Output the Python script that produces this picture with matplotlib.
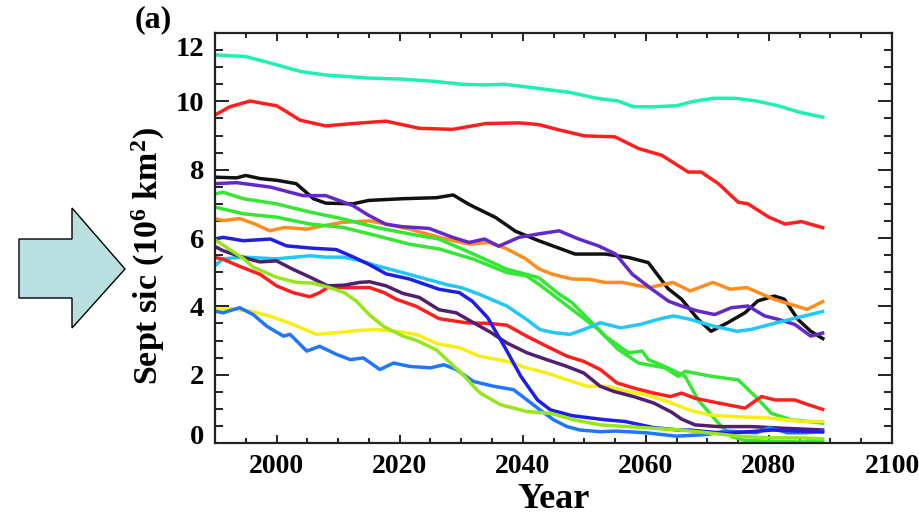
import matplotlib
matplotlib.use("Agg")
import matplotlib.pyplot as plt
from matplotlib.ticker import MultipleLocator
from matplotlib.patches import Polygon
from matplotlib.transforms import ScaledTranslation

plt.rcParams['font.family'] = ['Liberation Serif', 'DejaVu Serif']
plt.rcParams['font.weight'] = 'bold'
plt.rcParams['mathtext.fontset'] = 'custom'
plt.rcParams['mathtext.rm'] = 'Liberation Serif:bold'
plt.rcParams['mathtext.it'] = 'Liberation Serif:bold:italic'
plt.rcParams['mathtext.bf'] = 'Liberation Serif:bold'
plt.rcParams['mathtext.default'] = 'rm'

# ---------------- data (Sept sea-ice cover, 10^6 km^2) ----------------
yr_aqua = [1990, 1995, 1999, 2004, 2008, 2015, 2020.5, 2026, 2030, 2034, 2037, 2042.5, 2048,
           2052, 2055.5, 2058, 2061, 2065, 2067.5, 2071, 2074.5, 2078, 2081.5, 2085, 2089]
sic_aqua = [11.36, 11.31, 11.12, 10.87, 10.77, 10.68, 10.65, 10.58, 10.50, 10.48, 10.50, 10.38, 10.25,
            10.09, 10.01, 9.84, 9.84, 9.87, 9.99, 10.09, 10.09, 10.01, 9.87, 9.68, 9.53]

yr_red_top = [1990, 1992.4, 1995.7, 1997.8, 2000, 2001.6, 2003.8, 2008, 2012.4, 2017.8, 2023.2, 2028.6,
              2034, 2039.4, 2042.6, 2046, 2050, 2055, 2058.8, 2062.6, 2066.9, 2069, 2071.8, 2075,
              2076.6, 2080, 2082.6, 2085.3, 2089]
sic_red_top = [9.6, 9.84, 10.01, 9.94, 9.87, 9.7, 9.45, 9.28, 9.35, 9.42, 9.21, 9.18,
               9.35, 9.37, 9.32, 9.16, 8.99, 8.96, 8.62, 8.42, 7.93, 7.93, 7.59, 7.05,
               7.0, 6.61, 6.41, 6.48, 6.29]

yr_black = [1990, 1993.5, 1995, 1997.3, 2000, 2003.2, 2006, 2008, 2012.4, 2015, 2020.5, 2026, 2028.7,
            2031.3, 2035.6, 2038.8, 2042.6, 2048.5, 2053.4, 2057.2, 2060.4, 2063.6, 2065.8, 2068.5,
            2070.6, 2073.3, 2076.1, 2078.2, 2080.9, 2082.5, 2084.7, 2086.8, 2089]
sic_black = [7.78, 7.76, 7.83, 7.74, 7.69, 7.59, 7.15, 7.02, 7.0, 7.1, 7.15, 7.18, 7.26,
             6.98, 6.6, 6.2, 5.92, 5.53, 5.53, 5.43, 5.28, 4.52, 4.21, 3.62,
             3.27, 3.52, 3.81, 4.16, 4.3, 4.21, 3.62, 3.27, 3.03]

yr_purple = [1990, 1993.5, 1999, 2004.3, 2008, 2012.4, 2015, 2017.8, 2020.5, 2024.8, 2028.6, 2031.3,
             2033.8, 2036.1, 2039.4, 2042.6, 2045.9, 2049.1, 2052.3, 2055.1, 2057.8, 2061, 2063.7,
             2065.8, 2068.5, 2071.2, 2073.9, 2076.6, 2079.3, 2081.5, 2084.2, 2086.8, 2089]
sic_purple = [7.59, 7.62, 7.49, 7.24, 7.24, 6.95, 6.66, 6.4, 6.33, 6.28, 6.02, 5.87,
              5.97, 5.76, 6.02, 6.12, 6.21, 5.97, 5.77, 5.53, 4.94, 4.5, 4.15,
              4.01, 3.86, 3.76, 3.96, 4.01, 3.72, 3.62, 3.47, 3.13, 3.23]

yr_green1 = [1990, 1991.3, 1994.6, 2000, 2005.4, 2010.8, 2016.2, 2021.6, 2026.4, 2032, 2037.4, 2042.6,
             2045.6, 2048, 2053.4, 2057.2, 2059.4, 2060.4, 2063.1, 2066.4, 2068.5, 2071.8, 2073.9,
             2076, 2080, 2085, 2089]
sic_green1 = [7.29, 7.34, 7.15, 7.0, 6.76, 6.56, 6.31, 6.12, 5.97, 5.53, 5.09, 4.84,
              4.4, 4.11, 3.13, 2.64, 2.69, 2.44, 2.24, 1.95, 1.26, 0.58, 0.19,
              0.08, 0.05, 0.03, 0.05]

yr_green2 = [1990, 1992.5, 1994.6, 2000, 2005.4, 2010.8, 2016.2, 2021.6, 2026.4, 2032, 2037.4, 2040.6,
             2042.6, 2048, 2052.3, 2055.5, 2058.8, 2063.1, 2065.3, 2066.4, 2070.7, 2075, 2077.8,
             2080.4, 2083.6, 2089]
sic_green2 = [6.9, 6.8, 6.71, 6.61, 6.41, 6.31, 6.07, 5.82, 5.68, 5.38, 4.99, 4.89,
              4.65, 3.91, 3.32, 2.74, 2.34, 2.2, 1.95, 2.1, 1.95, 1.85, 1.36,
              0.87, 0.68, 0.58]

yr_orange = [1990, 1991.4, 1994, 1996.5, 1998.9, 2001.3, 2004.8, 2008.3, 2010.8, 2015.1, 2017.8, 2021.6,
             2026.4, 2031.3, 2034.5, 2037.2, 2040.4, 2042.6, 2044.8, 2048, 2050.8, 2053.4, 2056.2,
             2058.9, 2060.6, 2064.4, 2067.2, 2070.9, 2073.7, 2076.4, 2080.8, 2083.5, 2086.2, 2089]
sic_orange = [6.56, 6.51, 6.57, 6.41, 6.21, 6.31, 6.26, 6.38, 6.46, 6.5, 6.41, 6.26,
              6.02, 5.82, 5.87, 5.7, 5.4, 5.1, 4.94, 4.8, 4.79, 4.7, 4.7,
              4.6, 4.55, 4.7, 4.45, 4.7, 4.5, 4.55, 4.21, 4.06, 3.91, 4.16]

yr_blue = [1990, 1991.3, 1994.6, 1999, 2001.6, 2005.9, 2009.7, 2012.4, 2015.1, 2017.8, 2021.6, 2026.4,
           2029.7, 2031.8, 2034.3, 2037, 2039.7, 2042.4, 2044.5, 2048, 2053.4, 2056.6, 2061.3,
           2065.3, 2067, 2073, 2080.6, 2089]
sic_blue = [5.97, 6.02, 5.92, 5.97, 5.77, 5.7, 5.66, 5.45, 5.22, 4.95, 4.8, 4.5,
            4.4, 4.15, 3.67, 2.83, 1.95, 1.26, 0.97, 0.8, 0.68, 0.63, 0.45,
            0.38, 0.38, 0.28, 0.38, 0.32]

yr_lightblue = [1990, 1991.3, 1994, 1996.2, 1998.4, 2001.1, 2002.2, 2004.9, 2007, 2009.8, 2012, 2014.1,
                2016.8, 2019, 2021.7, 2025, 2027.2, 2029.2, 2032, 2035.3, 2038.5, 2040.7, 2042.8,
                2045, 2047.2, 2049.3, 2052.6, 2055, 2060, 2065, 2070, 2073, 2078, 2080, 2083,
                2086, 2089]
sic_lightblue = [3.86, 3.81, 3.96, 3.76, 3.42, 3.13, 3.18, 2.69, 2.83, 2.59, 2.44, 2.49,
                 2.15, 2.34, 2.24, 2.2, 2.29, 2.15, 1.8, 1.66, 1.56, 1.26, 0.97,
                 0.68, 0.48, 0.38, 0.33, 0.35, 0.3, 0.2, 0.25, 0.35, 0.3, 0.45, 0.3,
                 0.3, 0.35]

yr_cyan = [1990, 1991.3, 1994.6, 2000, 2005.4, 2008, 2010.8, 2013.5, 2016.2, 2019.4, 2024.3, 2028,
           2030, 2033, 2037.4, 2040.6, 2042.8, 2045, 2047.7, 2049.9, 2052.6, 2055.9, 2059.1,
           2062, 2064.5, 2067.2, 2071, 2074.8, 2077, 2080.2, 2083.5, 2086.7, 2089]
sic_cyan = [5.19, 5.39, 5.44, 5.39, 5.48, 5.44, 5.44, 5.34, 5.19, 5.04, 4.8, 4.62,
            4.55, 4.35, 4.01, 3.62, 3.32, 3.23, 3.18, 3.32, 3.52, 3.37, 3.47,
            3.62, 3.72, 3.62, 3.42, 3.27, 3.32, 3.47, 3.62, 3.76, 3.86]

yr_darkpurple = [1990, 1991.3, 1994.6, 1997.3, 2000, 2002.7, 2005.6, 2008.3, 2011, 2013.5, 2015.1,
                 2017.8, 2020.5, 2023.2, 2026.4, 2029.2, 2032, 2034.7, 2037.4, 2040.7, 2043.9,
                 2047.2, 2049.9, 2052.6, 2054.8, 2058, 2061.3, 2064.2, 2065.8, 2068, 2071.8,
                 2077.2, 2082.6, 2089]
sic_darkpurple = [5.75, 5.63, 5.43, 5.3, 5.33, 5.08, 4.84, 4.6, 4.62, 4.7, 4.72,
                  4.6, 4.38, 4.26, 3.9, 3.81, 3.52, 3.25, 2.93, 2.64, 2.44,
                  2.24, 2.05, 1.66, 1.51, 1.36, 1.17, 0.9, 0.7, 0.53, 0.48,
                  0.48, 0.43, 0.38]

yr_red_low = [1990, 1991.3, 1994, 1997.3, 2000, 2002.7, 2005.4, 2007, 2008.3, 2011, 2015.1, 2017.5,
              2019.4, 2022.7, 2026.4, 2030.8, 2034.5, 2037.4, 2040.6, 2043.9, 2047.2, 2049.9,
              2052.6, 2055.3, 2058, 2061.3, 2064, 2065.8, 2068, 2071.8, 2076.1, 2078.8, 2081,
              2084.2, 2086.4, 2089]
sic_red_low = [5.43, 5.38, 5.17, 4.94, 4.6, 4.4, 4.28, 4.4, 4.55, 4.55, 4.55, 4.4,
               4.21, 4.0, 3.64, 3.52, 3.5, 3.45, 3.13, 2.83, 2.54, 2.39,
               2.15, 1.76, 1.61, 1.46, 1.36, 1.46, 1.31, 1.17, 1.02, 1.36, 1.26,
               1.26, 1.12, 0.97]

yr_lime = [1990, 1992.5, 1994.6, 1996.2, 2000, 2003.2, 2005.9, 2008.6, 2011, 2013, 2015.1, 2017.5,
           2020.5, 2022.8, 2026, 2028.5, 2030.3, 2032, 2033.1, 2036.4, 2040.7, 2044.5, 2048.3,
           2052.6, 2056.9, 2061.3, 2065.6, 2070, 2075, 2080, 2085, 2089]
sic_lime = [5.95, 5.65, 5.4, 5.15, 4.85, 4.7, 4.68, 4.55, 4.4, 4.15, 3.75, 3.4,
            3.13, 3.0, 2.72, 2.3, 2.0, 1.66, 1.46, 1.12, 0.92, 0.87, 0.68,
            0.53, 0.48, 0.43, 0.38, 0.3, 0.2, 0.15, 0.15, 0.12]

yr_yellow = [1990, 1992.5, 1995.7, 1999, 2002.7, 2006.5, 2009.8, 2013.5, 2016.2, 2019.4, 2022.7,
             2026.2, 2029.7, 2033, 2037.4, 2040.6, 2043.9, 2047.2, 2050.5, 2053.8, 2057, 2060.2,
             2064.2, 2067, 2070.3, 2074.6, 2080, 2085.4, 2089]
sic_yellow = [3.91, 3.93, 3.86, 3.71, 3.47, 3.18, 3.23, 3.3, 3.32, 3.27, 3.18,
              2.9, 2.79, 2.54, 2.39, 2.2, 2.05, 1.85, 1.66, 1.66, 1.51, 1.41,
              1.17, 0.97, 0.82, 0.77, 0.73, 0.63, 0.63]

series = [
    (yr_aqua, sic_aqua, '#1ff0b2'),
    (yr_red_top, sic_red_top, '#ff1f1f'),
    (yr_black, sic_black, '#111111'),
    (yr_orange, sic_orange, '#ff8c1e'),
    (yr_purple, sic_purple, '#6428c8'),
    (yr_green1, sic_green1, '#35e635'),
    (yr_green2, sic_green2, '#35e635'),
    (yr_cyan, sic_cyan, '#22c8f5'),
    (yr_yellow, sic_yellow, '#f7ee14'),
    (yr_red_low, sic_red_low, '#ff1f1f'),
    (yr_darkpurple, sic_darkpurple, '#521e6e'),
    (yr_lightblue, sic_lightblue, '#1e78ff'),
    (yr_blue, sic_blue, '#1e1ee6'),
    (yr_lime, sic_lime, '#96e61e'),
]

x_major = [2000, 2020, 2040, 2060, 2080, 2100]

# ---------------- figure ----------------
fig = plt.figure(figsize=(9.19, 5.23), dpi=100)
ax = fig.add_axes([215 / 919, 1 - 443 / 523, (892 - 215) / 919, (443 - 33) / 523])

for yrs, vals, col in series:
    ax.plot(yrs, vals, color=col, lw=2.5, solid_capstyle='butt')

ax.set_xlim(1990, 2100)
ax.set_ylim(0, 12)
ax.set_xticks(x_major)
ax.xaxis.set_minor_locator(MultipleLocator(5))
ax.yaxis.set_major_locator(MultipleLocator(2))
ax.yaxis.set_minor_locator(MultipleLocator(0.5))

for s in ax.spines.values():
    s.set_linewidth(1.6)
    s.set_color('#222222')

ax.tick_params(axis='both', which='both', direction='in', top=True, right=True,
               width=1.4, color='#222222')
ax.tick_params(axis='y', which='major', length=10, pad=8, labelsize=20.5)
ax.tick_params(axis='y', which='minor', length=5.5)
ax.tick_params(axis='x', which='major', length=6, pad=8, labelsize=20)
ax.tick_params(axis='x', which='minor', length=3.5)

ax.set_xlabel('Year', fontsize=26, fontweight='bold', labelpad=3)
ax.set_ylabel(r'Sept sic (10$^{6}$ km$^{2}$)', fontsize=24.5, fontweight='bold')
ax.yaxis.set_label_coords(-0.071, 0.455)

fig.text(135 / 919, 1 - 20 / 523, '(a)', fontsize=23, fontweight='bold',
         ha='left', va='center')

# decorative arrow on the left
arrow_px = [(19, 239), (72, 239), (72, 208), (125, 269), (72, 328), (72, 298), (19, 298)]
arrow = Polygon([(x / 919, 1 - y / 523) for x, y in arrow_px], closed=True,
                transform=fig.transFigure, facecolor='#badfe1', edgecolor='black', lw=1.0)
fig.patches.append(arrow)

# end labels of the y axis sit inside the frame
fig.canvas.draw()
for t in ax.yaxis.get_major_ticks():
    loc = t.get_loc()
    if abs(loc - 12) < 1e-6:
        t.label1.set_transform(t.label1.get_transform() +
                               ScaledTranslation(0, -14 / 100, fig.dpi_scale_trans))
    elif abs(loc) < 1e-6:
        t.label1.set_transform(t.label1.get_transform() +
                               ScaledTranslation(0, 9 / 100, fig.dpi_scale_trans))

fig.savefig('out.png', dpi=100)
